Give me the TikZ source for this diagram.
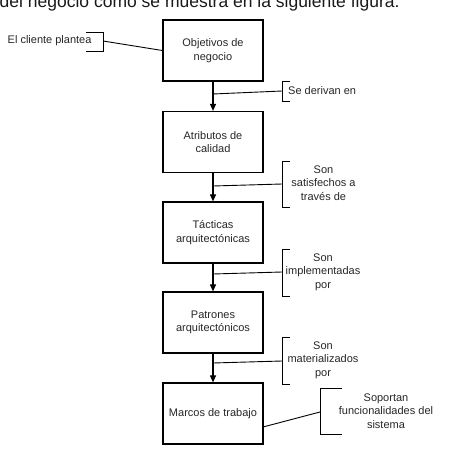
\documentclass[tikz,border=0pt]{standalone}
\usepackage{fontspec}
\setmainfont{Liberation Sans}
\usetikzlibrary{arrows.meta}
\begin{document}
\begin{tikzpicture}[x=1pt,y=-1pt,
  box/.style={draw=black,line width=1.2pt,minimum width=100pt,minimum height=61pt,inner sep=0pt,align=center,font=\fontsize{11}{13.5}\selectfont,text=black!85},
  lbl/.style={inner sep=0pt,align=center,font=\fontsize{11}{13.5}\selectfont,text=black!85},
  flow/.style={line width=1.1pt,-{Triangle[width=6pt,length=7pt]}},
  thin/.style={line width=0.9pt},
  brk/.style={line width=1pt}]
\useasboundingbox (0,0) rectangle (456,450);
\clip (0,0) rectangle (456,450);
\node[anchor=base west,inner sep=0pt,font=\fontsize{17.5}{20}\selectfont,text=black!90] (top) at (-0.5,7.3) {del negocio como se muestra en la siguiente figura.};

\node[box] (b1) at (213,50.5) {Objetivos de\\negocio};
\node[box] (b2) at (213,142) {Atributos de\\calidad};
\node[box] (b3) at (213,232.5) {Tácticas\\arquitectónicas};
\node[box] (b4) at (213,322.5) {Patrones\\arquitectónicos};
\node[box] (b5) at (213,413.5) {Marcos de trabajo};

\draw[flow] (b1.south) -- (b2.north);
\draw[flow] (b2.south) -- (b3.north);
\draw[flow] (b3.south) -- (b4.north);
\draw[flow] (b4.south) -- (b5.north);

% El cliente plantea
\node[lbl,anchor=west] (l0) at (7.5,41) {El cliente plantea};
\coordinate (k0) at (103,41);
\draw[brk] (86,32) -- (103,32) -- (103,51) -- (86,51);
\draw[thin] (k0) -- (b1.west);

% Se derivan en
\node[lbl,anchor=west] (l1) at (288,91) {Se derivan en};
\coordinate (a1) at (213,94);
\coordinate (k1) at (282,91);
\draw[brk] (290,81) -- (282,81) -- (282,101) -- (290,101);
\draw[thin] (a1) -- (k1);

% Son satisfechos a traves de
\node[lbl] (l2) at (323.5,183) {Son\\satisfechos a\\través de};
\coordinate (a2) at (213,186);
\coordinate (k2) at (282,184);
\draw[brk] (290,161) -- (282,161) -- (282,207) -- (290,207);
\draw[thin] (a2) -- (k2);

% Son implementadas por
\node[lbl] (l3) at (323,272) {Son\\implementadas\\por};
\coordinate (a3) at (213,274);
\coordinate (k3) at (282,272);
\draw[brk] (290,249) -- (282,249) -- (282,296) -- (290,296);
\draw[thin] (a3) -- (k3);

% Son materializados por
\node[lbl] (l4) at (323,360) {Son\\materializados\\por};
\coordinate (a4) at (213,363);
\coordinate (k4) at (282,361);
\draw[brk] (290,337) -- (282,337) -- (282,384) -- (290,384);
\draw[thin] (a4) -- (k4);

% Soportan funcionalidades del sistema
\node[lbl] (l5) at (386,411) {Soportan\\funcionalidades del\\sistema};
\coordinate (a5) at (263,427);
\coordinate (k5) at (320,412);
\draw[brk] (342,388) -- (320,388) -- (320,434) -- (342,434);
\draw[thin] (a5) -- (k5);
\end{tikzpicture}
\end{document}
